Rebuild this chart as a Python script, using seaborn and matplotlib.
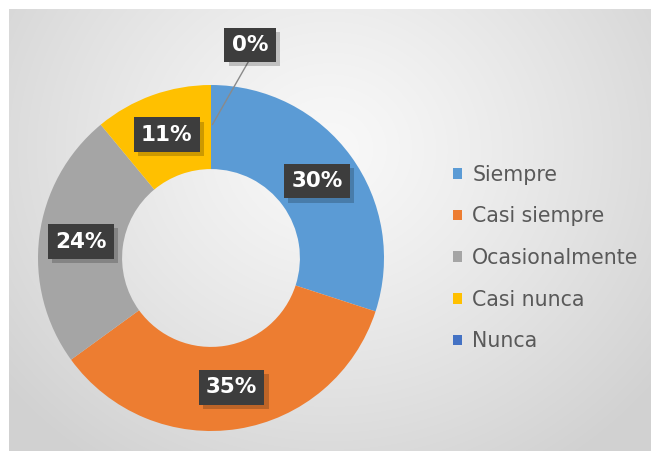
import numpy as np
import matplotlib
matplotlib.use("Agg")
import matplotlib.pyplot as plt
import matplotlib.patheffects as pe
from matplotlib.patches import Patch
import seaborn as sns

categorias = ["Siempre", "Casi siempre", "Ocasionalmente", "Casi nunca", "Nunca"]
porcentajes = [30, 35, 24, 11, 0]
etiquetas = ["30%", "35%", "24%", "11%", "0%"]
colores = ["#5B9BD5", "#ED7D31", "#A5A5A5", "#FFC000", "#4472C4"]

sns.set_theme(style="white")
plt.rcParams['font.family'] = ['DejaVu Sans']

W, H = 651, 451
fig = plt.figure(figsize=(W / 100, H / 100), dpi=100)
fig.patch.set_facecolor("white")

# fondo con degradado radial
bg = fig.add_axes([9 / W, 0, (W - 9) / W, (H - 9) / H])
yy, xx = np.mgrid[0:442, 0:642]
d = np.sqrt((xx - 320) ** 2 + ((yy - 140) * 1.1) ** 2) / 420
d = np.clip(d, 0, 1)
grad = 0.975 - 0.155 * d ** 1.2
bg.imshow(np.dstack([grad] * 3), aspect="auto", extent=[0, 1, 0, 1], origin="upper")
bg.set_axis_off()

# donut
cx, cy, R = 211, 258, 173
ax = fig.add_axes([(cx - R) / W, (H - cy - R) / H, 2 * R / W, 2 * R / H])
ax.set_facecolor("none")
wedges, _ = ax.pie(porcentajes, colors=colores, startangle=90, counterclock=False,
                   radius=1, wedgeprops=dict(width=0.486, linewidth=0))
ax.set_xlim(-1, 1)
ax.set_ylim(-1, 1)
ax.set_aspect("equal")
ax.set_axis_off()

caja = dict(boxstyle="square,pad=0.34", facecolor="#3d3d3d", edgecolor="none")
rmid = (1 + 0.514) / 2
for w, lab, val in zip(wedges, etiquetas, porcentajes):
    ang = np.deg2rad((w.theta1 + w.theta2) / 2)
    x, y = rmid * np.cos(ang), rmid * np.sin(ang)
    if val == 0:
        tx, ty = 39 / R, 213 / R
        ax.annotate("", xy=(x, y), xytext=(tx, ty - 0.08),
                    arrowprops=dict(arrowstyle="-", color="#8a8a8a", lw=1),
                    annotation_clip=False)
    else:
        tx, ty = x, y
    t = ax.text(tx, ty, lab, ha="center", va="center", fontsize=15.5,
                fontweight="bold", color="white", bbox=caja, clip_on=False)
    t.get_bbox_patch().set_path_effects(
        [pe.SimplePatchShadow(offset=(3, -3), shadow_rgbFace="black", alpha=0.2), pe.Normal()])

handles = [Patch(facecolor=c, edgecolor="none") for c in colores]
leg = fig.legend(handles, categorias, loc="center left",
                 bbox_to_anchor=(445 / W, (H - 258) / H), frameon=False,
                 fontsize=14.8, handlelength=0.42, handleheight=0.42,
                 handletextpad=0.5, labelspacing=1.05, borderaxespad=0)
for t in leg.get_texts():
    t.set_color("#595959")

fig.savefig("out.png", dpi=100, facecolor="white")
